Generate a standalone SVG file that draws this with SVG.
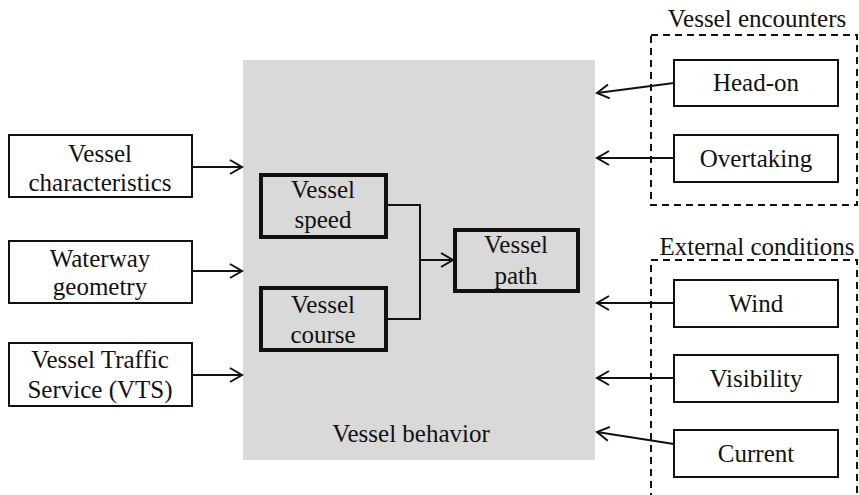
<svg xmlns="http://www.w3.org/2000/svg" width="859" height="495" viewBox="0 0 859 495">
<style>
text{font-family:"Liberation Serif","Times New Roman",serif;font-size:25px;fill:#111;text-anchor:middle}
.box{fill:#fff;stroke:#111;stroke-width:2}
.thick{fill:none;stroke:#111;stroke-width:4}
.dash{fill:none;stroke:#111;stroke-width:2;stroke-dasharray:7,5}
.conn{fill:none;stroke:#111;stroke-width:2}
</style>
<defs>
<marker id="arr" markerWidth="16" markerHeight="16" refX="13" refY="8" orient="auto" markerUnits="userSpaceOnUse">
<polyline points="1,1 13,8 1,15" fill="none" stroke="#111" stroke-width="2"/>
</marker>
</defs>
<rect x="243" y="60" width="352" height="400" fill="#d9d9d9"/>
<text x="411" y="442">Vessel behavior</text>
<g id="encounters-group">
<rect class="dash" x="651" y="35" width="206" height="170"/>
<text x="757" y="27">Vessel encounters</text>
</g>
<g id="external-group">
<rect class="dash" x="651" y="260" width="206" height="250"/>
<text x="757" y="255">External conditions</text>
</g>
<g id="connectors">
<line class="conn" x1="192" y1="167" x2="242" y2="167" marker-end="url(#arr)"/>
<line class="conn" x1="192" y1="271" x2="242" y2="271" marker-end="url(#arr)"/>
<line class="conn" x1="192" y1="375" x2="242" y2="375" marker-end="url(#arr)"/>
<polyline class="conn" points="386,205 420,205 420,319 386,319"/>
<line class="conn" x1="420" y1="260" x2="453" y2="260" marker-end="url(#arr)"/>
<line class="conn" x1="674" y1="83" x2="597" y2="93" marker-end="url(#arr)"/>
<line class="conn" x1="674" y1="158" x2="597" y2="158" marker-end="url(#arr)"/>
<line class="conn" x1="674" y1="303" x2="597" y2="303" marker-end="url(#arr)"/>
<line class="conn" x1="674" y1="378" x2="597" y2="378" marker-end="url(#arr)"/>
<line class="conn" x1="674" y1="444" x2="597" y2="432" marker-end="url(#arr)"/>
</g>
<g id="vessel-characteristics">
<rect class="box" x="9" y="135" width="183" height="62"/>
<text x="100" y="162">Vessel</text>
<text x="100" y="191">characteristics</text>
</g>
<g id="waterway-geometry">
<rect class="box" x="9" y="241" width="183" height="62"/>
<text x="100" y="267">Waterway</text>
<text x="100" y="295">geometry</text>
</g>
<g id="vts">
<rect class="box" x="9" y="343" width="183" height="63"/>
<text x="100" y="368">Vessel Traffic</text>
<text x="100" y="398">Service (VTS)</text>
</g>
<g id="vessel-speed">
<rect class="thick" x="261" y="175" width="125" height="62"/>
<text x="323" y="198">Vessel</text>
<text x="323" y="228">speed</text>
</g>
<g id="vessel-course">
<rect class="thick" x="261" y="288" width="125" height="62"/>
<text x="323" y="313">Vessel</text>
<text x="323" y="343">course</text>
</g>
<g id="vessel-path">
<rect class="thick" x="455" y="230" width="123" height="61"/>
<text x="516" y="253">Vessel</text>
<text x="516" y="284">path</text>
</g>
<g id="head-on">
<rect class="box" x="674" y="60" width="164" height="46"/>
<text x="756" y="91">Head-on</text>
</g>
<g id="overtaking">
<rect class="box" x="674" y="135" width="164" height="47"/>
<text x="756" y="167">Overtaking</text>
</g>
<g id="wind">
<rect class="box" x="674" y="280" width="164" height="47"/>
<text x="756" y="312">Wind</text>
</g>
<g id="visibility">
<rect class="box" x="674" y="355" width="164" height="47"/>
<text x="756" y="387">Visibility</text>
</g>
<g id="current">
<rect class="box" x="674" y="430" width="164" height="47"/>
<text x="756" y="462">Current</text>
</g>
</svg>
